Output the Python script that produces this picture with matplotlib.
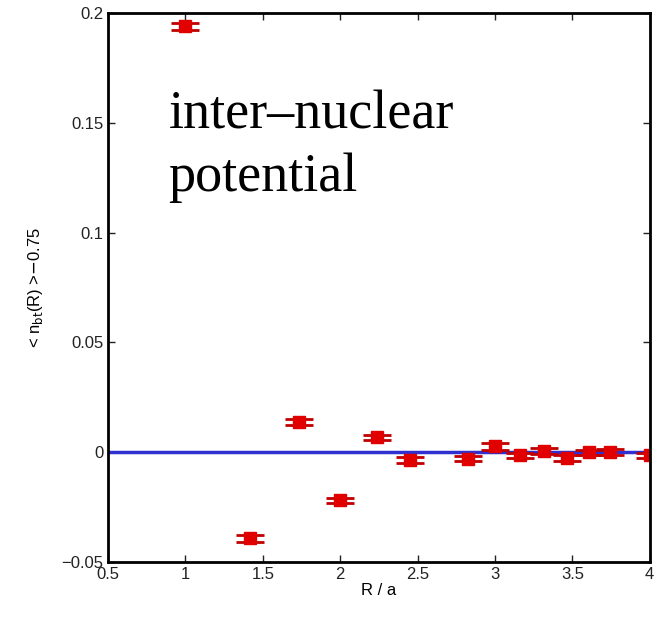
import matplotlib
matplotlib.use('Agg')
import matplotlib.pyplot as plt
import numpy as np

# distances R/a and measured values
r = np.sqrt([1, 2, 3, 4, 5, 6, 8, 9, 10, 11, 12, 13, 14, 16])
nbt = [0.194, -0.0392, 0.0137, -0.0219, 0.0068, -0.0036, -0.0030,
       0.0027, -0.0014, 0.0005, -0.0027, 0.0, 0.0, -0.0014]
err = [0.0015, 0.0015, 0.0015, 0.0012, 0.0012, 0.0012, 0.0012,
       0.0015, 0.0012, 0.0012, 0.0015, 0.0012, 0.0015, 0.0012]

fig = plt.figure(figsize=(6.63, 6.23), dpi=100)
ax = fig.add_axes([0.163, 0.098, 0.817, 0.881])

ax.plot([0.5, 4], [0, 0], color='#3030d0', linewidth=2.5)
ax.errorbar(r, nbt, yerr=err, fmt='s', color='#e00000', markersize=8,
            ecolor='#c00000', elinewidth=1.5, capsize=10, capthick=2)

ax.set_xlim(0.5, 4)
ax.set_ylim(-0.05, 0.2)
ax.set_xticks([0.5, 1, 1.5, 2, 2.5, 3, 3.5, 4])
ax.set_xticklabels(['0.5', '1', '1.5', '2', '2.5', '3', '3.5', '4'])
ax.set_yticks([-0.05, 0, 0.05, 0.1, 0.15, 0.2])
ax.set_yticklabels(['\u22120.05', '0', '0.05', '0.1', '0.15', '0.2'])
ax.tick_params(direction='in', length=5, width=1, labelsize=12,
               top=True, right=True, colors='#222222')
for lab in ax.get_xticklabels() + ax.get_yticklabels():
    lab.set_family('Liberation Sans')
for s in ax.spines.values():
    s.set_linewidth(2)

ax.set_xlabel('R / a', fontsize=12, family='Liberation Sans', labelpad=1)
ax.set_ylabel(r'< n$_{\rm bt}$(R) >$-$0.75', fontsize=12, family='Liberation Sans', labelpad=12)

ax.text(0.89, 0.119, 'inter\u2013nuclear\npotential', fontsize=39,
        family='Liberation Serif', va='baseline', linespacing=1.32)

fig.savefig('out.png', dpi=100)
